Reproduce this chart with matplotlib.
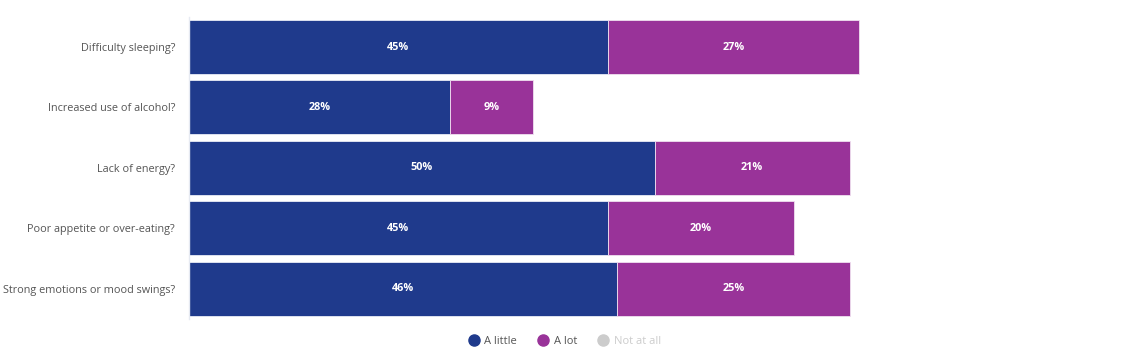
import matplotlib.pyplot as plt
from matplotlib.lines import Line2D

plt.rcParams["font.family"] = ["Open Sans", "DejaVu Sans"]

categories = [
    "Difficulty sleeping?",
    "Increased use of alcohol?",
    "Lack of energy?",
    "Poor appetite or over-eating?",
    "Strong emotions or mood swings?",
]
a_little = [45, 28, 50, 45, 46]
a_lot = [27, 9, 21, 20, 25]
series_names = ["A little", "A lot", "Not at all"]

col_little = "#1f3a8c"
col_lot = "#993399"
col_off = "#cccccc"

fig = plt.figure(figsize=(11.29, 3.6), dpi=100)
ax = fig.add_axes([189 / 1129, 1 - 318.8 / 360, 931 / 1129, 302 / 360])

y = list(range(len(categories)))
b1 = ax.barh(y, a_little, height=0.895, color=col_little, edgecolor="#e8ecf5", linewidth=0.6)
b2 = ax.barh(y, a_lot, left=a_little, height=0.895, color=col_lot, edgecolor="#f0e0f0", linewidth=0.6)

for bars, vals, lefts in [(b1, a_little, [0] * 5), (b2, a_lot, a_little)]:
    for i, v in enumerate(vals):
        ax.text(lefts[i] + v / 2, i, f"{v}%", ha="center", va="center",
                color="white", fontsize=7.8, fontweight="bold")

ax.set_xlim(0, 100)
ax.set_ylim(len(categories) - 0.5, -0.5)
ax.set_yticks(y)
ax.set_yticklabels(categories, fontsize=7.8, color="#555555")
ax.tick_params(axis="y", length=0, pad=10)
ax.set_xticks([])
for s in ["top", "right", "bottom"]:
    ax.spines[s].set_visible(False)
ax.spines["left"].set_color("#e6eaf2")
ax.spines["left"].set_linewidth(1)

handles = [
    Line2D([], [], marker="o", linestyle="", markersize=8, color=col_little),
    Line2D([], [], marker="o", linestyle="", markersize=8, color=col_lot),
    Line2D([], [], marker="o", linestyle="", markersize=8, color=col_off),
]
leg = fig.legend(handles, series_names, loc="center", bbox_to_anchor=(563 / 1129, 1 - 341 / 360),
                 ncol=3, frameon=False, fontsize=8, handletextpad=0.2, columnspacing=1.6,
                 handlelength=1.5)
for t, c in zip(leg.get_texts(), ["#555555", "#555555", "#cccccc"]):
    t.set_color(c)

fig.savefig("out.png", dpi=100)
